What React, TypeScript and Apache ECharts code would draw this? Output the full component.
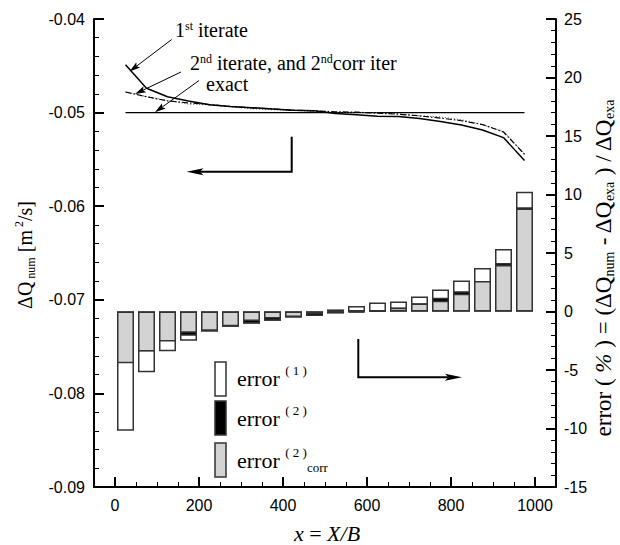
import React, { useEffect, useRef } from "react";
import * as echarts from "echarts";

// x positions (X/B) of the bars and line points
const xPos = [25, 75, 125, 175, 225, 275, 325, 375, 425, 475, 525, 575, 625, 675, 725, 775, 825, 875, 925, 975];

// error bars (%), right axis
const err1 = [-10.2, -5.2, -3.4, -2.5, -1.7, -1.3, -1.05, -0.78, -0.52, -0.38, 0.18, 0.46, 0.76, 0.85, 1.28, 1.89, 2.66, 3.71, 5.34, 10.23];
const err2 = [-4.4, -3.4, -2.5, -2.08, -1.72, -1.3, -1.03, -0.78, -0.52, -0.38, -0.18, -0.1, 0.12, 0.34, 0.7, 1.17, 1.74, 2.55, 4.14, 8.91];
const err2corr = [-4.42, -3.42, -2.57, -1.82, -1.65, -1.25, -0.82, -0.6, -0.46, -0.22, -0.06, -0.04, 0.04, 0.31, 0.68, 0.91, 1.51, 2.6, 3.97, 8.8];

// Delta Q lines (m^2/s), left axis
const dq1 = [-0.0449, -0.0474, -0.0483, -0.04875, -0.04915, -0.04935, -0.049475, -0.04961, -0.04974, -0.04981, -0.05009, -0.05023, -0.05038, -0.050425, -0.05064, -0.050945, -0.05133, -0.051855, -0.05267, -0.055115];
const dq2 = [-0.0478, -0.0483, -0.04875, -0.04896, -0.04914, -0.04935, -0.049485, -0.04961, -0.04974, -0.04981, -0.04991, -0.04995, -0.05006, -0.05017, -0.05035, -0.050585, -0.05087, -0.051275, -0.05207, -0.054455];
const dq2corr = [-0.04779, -0.04829, -0.048715, -0.04909, -0.049175, -0.049375, -0.04959, -0.0497, -0.04977, -0.04989, -0.04997, -0.04998, -0.05002, -0.050155, -0.05034, -0.050455, -0.050755, -0.0513, -0.051985, -0.0544];
const dqExact = [-0.05, -0.05, -0.05, -0.05, -0.05, -0.05, -0.05, -0.05, -0.05, -0.05, -0.05, -0.05, -0.05, -0.05, -0.05, -0.05, -0.05, -0.05, -0.05, -0.05];

// tick labels
const xTickValues = [0, 200, 400, 600, 800, 1000];

const SERIF = "Liberation Serif";
const SANS = "Liberation Sans";

function pairs(xs: number[], ys: number[]) {
  return xs.map((x, i) => [x, ys[i]]);
}

function headOnly(sx: number, sy: number, tx: number, ty: number, len: number, hw: number): any {
  const dx = tx - sx, dy = ty - sy;
  const L = Math.hypot(dx, dy);
  const ux = dx / L, uy = dy / L;
  const bx = tx - ux * len, by = ty - uy * len;
  const px = -uy * hw, py = ux * hw;
  return {
    type: "polygon",
    shape: { points: [[tx, ty], [bx + px, by + py], [bx + ux * len * 0.2, by + uy * len * 0.2], [bx - px, by - py]] },
    style: { fill: "#000" },
  };
}

function arrow(sx: number, sy: number, tx: number, ty: number, len: number, hw: number, lw: number): any[] {
  const dx = tx - sx, dy = ty - sy;
  const L = Math.hypot(dx, dy);
  const ux = dx / L, uy = dy / L;
  const bx = tx - ux * len, by = ty - uy * len;
  return [
    { type: "line", shape: { x1: sx, y1: sy, x2: bx + ux * 3, y2: by + uy * 3 }, style: { stroke: "#000", lineWidth: lw } },
    headOnly(sx, sy, tx, ty, len, hw),
  ];
}

function richSet(size: number, lh: number, small: number) {
  return {
    m: { fontSize: size, fontFamily: SERIF, lineHeight: lh, fill: "#000", color: "#000" },
    i: { fontSize: size, fontFamily: SERIF, fontStyle: "italic", lineHeight: lh, fill: "#000", color: "#000" },
    sp: { fontSize: small, fontFamily: SERIF, verticalAlign: "top", lineHeight: small - 1, fill: "#000", color: "#000" },
    sb: { fontSize: small, fontFamily: SERIF, verticalAlign: "bottom", lineHeight: small - 1, fill: "#000", color: "#000" },
  };
}

const annRich = richSet(20, 21, 12);
const yTitleRich = richSet(20, 24, 12);
const rTitleRich = richSet(23, 27, 14);
const xTitleRich = richSet(22, 24, 13);
const legRich = richSet(22, 28, 13);

export default function App() {
  const ref = useRef<HTMLDivElement>(null);

  useEffect(() => {
    if (!ref.current) return;
    const chart = echarts.init(ref.current, undefined, { renderer: "svg" });

    const axisLine = { show: true, onZero: false, lineStyle: { color: "#000", width: 2 } };

    const graphic: any[] = [
      // annotation texts
      {
        type: "text", x: 175, y: 30,
        style: { text: "{m|1}{sp|st}{m| iterate}", rich: annRich, align: "left", verticalAlign: "middle" },
      },
      {
        type: "text", x: 190, y: 63,
        style: { text: "{m|2}{sp|nd}{m| iterate, and 2}{sp|nd}{m|corr iter}", rich: annRich, align: "left", verticalAlign: "middle" },
      },
      {
        type: "text", x: 206, y: 84,
        style: { text: "{m|exact}", rich: annRich, align: "left", verticalAlign: "middle" },
      },
      ...arrow(171.7, 39.5, 129.5, 71.5, 11, 3.2, 1),
      ...arrow(181, 72, 135, 94, 11, 3.2, 1),
      ...arrow(199, 80.5, 155, 112.3, 11, 3.2, 1),
      // big arrow pointing to the left axis
      {
        type: "polyline",
        shape: { points: [[291.7, 136.7], [291.7, 171.7], [200, 171.7]] },
        style: { stroke: "#000", lineWidth: 2, fill: null },
      },
      headOnly(291.7, 171.7, 186.5, 171.7, 17, 3.5),
      // big arrow pointing to the right axis
      {
        type: "polyline",
        shape: { points: [[358.3, 339], [358.3, 377.3], [448, 377.3]] },
        style: { stroke: "#000", lineWidth: 2, fill: null },
      },
      headOnly(358.3, 377.3, 462, 377.3, 17, 3.5),
      // legend boxes
      { type: "rect", shape: { x: 215, y: 362, width: 11, height: 34 }, style: { fill: "#fff", stroke: "#333", lineWidth: 1.5 } },
      { type: "rect", shape: { x: 215, y: 401, width: 11, height: 34 }, style: { fill: "#000", stroke: "#333", lineWidth: 1.5 } },
      { type: "rect", shape: { x: 215, y: 443, width: 11, height: 34 }, style: { fill: "#d3d3d3", stroke: "#333", lineWidth: 1.5 } },
      {
        type: "text", x: 237, y: 378,
        style: { text: "{m|error }{sp|( 1 )}", rich: legRich, align: "left", verticalAlign: "middle" },
      },
      {
        type: "text", x: 237, y: 418,
        style: { text: "{m|error }{sp|( 2 )}", rich: legRich, align: "left", verticalAlign: "middle" },
      },
      {
        type: "text", x: 237, y: 460,
        style: { text: "{m|error }{sp|( 2 )}{sb|corr}", rich: legRich, align: "left", verticalAlign: "middle" },
      },
      // axis titles
      {
        type: "text", x: 25, y: 255, rotation: Math.PI / 2,
        style: { text: "{m|ΔQ}{sb| num}{m| [m}{sp| 2}{m|/s]}", rich: yTitleRich, align: "center", verticalAlign: "middle" },
      },
      {
        type: "text", x: 603, y: 268, rotation: Math.PI / 2,
        style: {
          text: "{m|error ( }{i|%}{m| ) = (ΔQ}{sb|num}{m| - ΔQ}{sb|exa}{m| ) / ΔQ}{sb|exa}",
          rich: rTitleRich, align: "center", verticalAlign: "middle",
        },
      },
      {
        type: "text", x: 327, y: 533,
        style: { text: "{i|x}{m| = }{i|X/B}", rich: xTitleRich, align: "center", verticalAlign: "middle" },
      },
    ];

    const option: any = {
      animation: false,
      backgroundColor: "#fff",
      grid: { left: 94, right: 64, top: 19, bottom: 58, containLabel: false },
      xAxis: [
        {
          type: "value", min: -50, max: 1050, position: "bottom",
          axisLine,
          axisTick: { show: true, inside: true, length: 10, lineStyle: { color: "#000", width: 2 }, customValues: xTickValues },
          axisLabel: {
            customValues: xTickValues, color: "#000", fontSize: 16, fontFamily: SANS, margin: 10,
            formatter: (v: number) => String(v),
          },
          splitLine: { show: false },
        },
        {
          type: "value", min: -50, max: 1050, interval: 50, position: "bottom",
          axisLine: { show: false, onZero: false },
          axisTick: { show: true, inside: true, length: 5, lineStyle: { color: "#000", width: 1 } },
          axisLabel: { show: false },
          splitLine: { show: false },
        },
      ],
      yAxis: [
        {
          type: "value", min: -0.09, max: -0.04, interval: 0.01, position: "left",
          axisLine,
          axisTick: { show: true, inside: true, length: 10, lineStyle: { color: "#000", width: 2 } },
          minorTick: { show: true, splitNumber: 5, length: 5, lineStyle: { color: "#000", width: 1 } },
          axisLabel: { color: "#000", fontSize: 16, fontFamily: SANS, margin: 9, formatter: (v: number) => v.toFixed(2) },
          splitLine: { show: false },
        },
        {
          type: "value", min: -15, max: 25, interval: 5, position: "right",
          axisLine,
          axisTick: { show: true, inside: true, length: 10, lineStyle: { color: "#000", width: 2 } },
          minorTick: { show: true, splitNumber: 5, length: 5, lineStyle: { color: "#000", width: 1 } },
          axisLabel: { color: "#000", fontSize: 16, fontFamily: SANS, margin: 8 },
          splitLine: { show: false },
        },
      ],
      series: [
        {
          name: "error (1)", type: "bar", xAxisIndex: 0, yAxisIndex: 1,
          data: pairs(xPos, err1), barWidth: 17, barGap: "-100%",
          itemStyle: { color: "#fff", borderColor: "#333", borderWidth: 1.5 },
        },
        {
          name: "error (2)", type: "bar", xAxisIndex: 0, yAxisIndex: 1,
          data: pairs(xPos, err2), barWidth: 17, barGap: "-100%",
          itemStyle: { color: "#000", borderColor: "#333", borderWidth: 1.5 },
        },
        {
          name: "error (2) corr", type: "bar", xAxisIndex: 0, yAxisIndex: 1,
          data: pairs(xPos, err2corr), barWidth: 17, barGap: "-100%",
          itemStyle: { color: "#d3d3d3", borderColor: "#333", borderWidth: 1.5 },
        },
        {
          name: "exact", type: "line", xAxisIndex: 0, yAxisIndex: 0, data: pairs(xPos, dqExact),
          symbol: "none", lineStyle: { color: "#000", width: 1.2 },
        },
        {
          name: "2nd corr iter", type: "line", xAxisIndex: 0, yAxisIndex: 0, data: pairs(xPos, dq2corr),
          symbol: "none", lineStyle: { color: "#555", width: 1, type: [1, 2] },
        },
        {
          name: "2nd iterate", type: "line", xAxisIndex: 0, yAxisIndex: 0, data: pairs(xPos, dq2),
          symbol: "none", lineStyle: { color: "#000", width: 1.2, type: [6, 2, 1.5, 2] },
        },
        {
          name: "1st iterate", type: "line", xAxisIndex: 0, yAxisIndex: 0, data: pairs(xPos, dq1),
          symbol: "none", lineStyle: { color: "#000", width: 1.5 },
        },
      ],
      graphic,
    };

    chart.setOption(option);
    return () => chart.dispose();
  }, []);

  return (
    <div
      ref={ref}
      style={{ position: "fixed", left: 0, top: 0, width: 620, height: 545, background: "#fff" }}
    />
  );
}
